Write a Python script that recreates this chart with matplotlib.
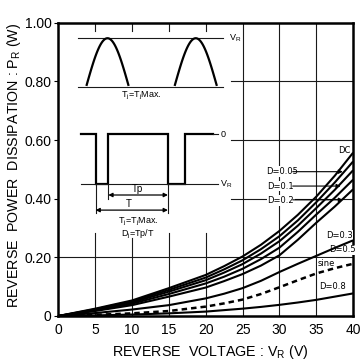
import numpy as np
import matplotlib.pyplot as plt

plt.rcParams['font.family'] = ['Liberation Sans', 'DejaVu Sans']

# values
voltage = [0, 5, 10, 15, 20, 22.5, 25, 27.5, 30, 32.5, 35, 37.5, 40]
p_dc = [0, .025, .053, .095, .140, .170, .203, .243, .290, .345, .407, .478, .557]
p_d005 = [0, .023, .050, .089, .131, .159, .190, .228, .272, .326, .388, .455, .527]
p_d01 = [0, .021, .046, .083, .122, .148, .177, .213, .255, .308, .368, .430, .497]
p_d02 = [0, .019, .042, .075, .111, .134, .161, .194, .233, .287, .346, .403, .465]
p_d03 = [0, .017, .037, .066, .097, .119, .143, .172, .207, .260, .318, .373, .432]
p_d05 = [0, .010, .022, .037, .060, .076, .095, .120, .150, .178, .205, .232, .258]
p_sine = [0, .004, .009, .017, .032, .043, .056, .075, .098, .122, .145, .163, .178]
p_d08 = [0, .002, .005, .009, .015, .020, .025, .031, .038, .046, .055, .066, .077]

x_ticks = [0, 5, 10, 15, 20, 25, 30, 35, 40]
y_ticks = [0, 0.2, 0.4, 0.6, 0.8, 1.0]
y_tick_labels = ['0', '0.20', '0.40', '0.60', '0.80', '1.00']

narrow = ['Liberation Sans Narrow', 'DejaVu Sans']
gcol = '#1a1a1a'

fig = plt.figure(figsize=(3.6, 3.63), dpi=100)
ax = fig.add_axes([0.162, 0.1295, 0.819, 0.808])
ax.set_xlim(0, 40)
ax.set_ylim(0, 1.0)

# partial grid as drawn in the datasheet
for gx in [25, 30, 35]:
    ax.plot([gx, gx], [0, 1], color=gcol, lw=0.8, zorder=1)
for gx, top in [(5, 0.283), (10, 0.265), (15, 0.283), (20, 0.283)]:
    ax.plot([gx, gx], [0, top], color=gcol, lw=0.8, zorder=1)
    ax.plot([gx, gx], [0.97, 1.0], color=gcol, lw=0.8, zorder=1)
ax.plot([0, 40], [0.2, 0.2], color=gcol, lw=0.8, zorder=1)
for gy in [0.4, 0.6, 0.8]:
    ax.plot([23.4, 40], [gy, gy], color=gcol, lw=0.8, zorder=1)

# curves
for p in [p_dc, p_d005, p_d01, p_d02, p_d03, p_d05, p_d08]:
    ax.plot(voltage, p, color='black', lw=1.5, zorder=4, solid_capstyle='butt')
ax.plot(voltage, p_sine, color='black', lw=1.8, ls=(0, (2.2, 1.6)), zorder=4)

box = dict(facecolor='white', edgecolor='none', pad=0.6)
lab_kw = dict(fontsize=6, family=narrow, ha='center', va='center', zorder=3, bbox=box)
ax.text(38.8, 0.563, 'DC', **lab_kw)
ax.text(30.4, 0.492, 'D=0.05', **lab_kw)
ax.text(30.2, 0.443, 'D=0.1', **lab_kw)
ax.text(30.2, 0.393, 'D=0.2', **lab_kw)
ax.text(38.1, 0.276, 'D=0.3', **lab_kw)
ax.text(38.5, 0.225, 'D=0.5', **lab_kw)
ax.text(36.4, 0.179, 'sine', **lab_kw)
ax.text(37.2, 0.100, 'D=0.8', **lab_kw)
arr = dict(arrowstyle='-|>', color='black', lw=0.8, mutation_scale=6, shrinkA=0, shrinkB=0)
for y0, x1 in [(0.492, 38.6), (0.443, 38.3), (0.396, 38.6)]:
    ax.annotate('', xy=(x1, y0), xytext=(31.8, y0), arrowprops=arr, zorder=5)

# inset: sine waveform
ax.plot([2.63, 22.3], [0.947, 0.947], color=gcol, lw=0.8)
ax.plot([2.63, 22.3], [0.780, 0.780], color=gcol, lw=0.8)
for x0 in [3.85, 15.82]:
    t = np.linspace(0, np.pi, 60)
    ax.plot(x0 + t / np.pi * 5.65, 0.788 + 0.159 * np.sin(t), color='black', lw=1.6)
ax.text(23.2, 0.947, 'V$_\\mathregular{R}$', fontsize=6.5, ha='left', va='center')
ax.text(11.2, 0.750, 'T$_\\mathregular{j}$=T$_\\mathregular{j}$Max.', fontsize=6.5, ha='center', va='center')

# inset: rectangular waveform
sq_x = [3.08, 5.05, 5.05, 6.78, 6.78, 14.87, 14.87, 17.18, 17.18, 20.98]
sq_y = [0.62, 0.62, 0.45, 0.45, 0.62, 0.62, 0.45, 0.45, 0.62, 0.62]
ax.plot(sq_x, sq_y, color='black', lw=1.6, solid_joinstyle='miter')
ax.plot([20.98, 21.6], [0.62, 0.62], color=gcol, lw=0.8)
ax.plot([3.08, 21.6], [0.45, 0.45], color=gcol, lw=0.8)
ax.text(22.0, 0.62, '0', fontsize=6.5, ha='left', va='center')
ax.text(22.0, 0.45, 'V$_\\mathregular{R}$', fontsize=6.5, ha='left', va='center')
ax.plot([5.05, 5.05], [0.45, 0.351], color=gcol, lw=0.8)
ax.plot([6.78, 6.78], [0.45, 0.40], color=gcol, lw=0.8)
ax.plot([14.87, 14.87], [0.45, 0.351], color=gcol, lw=0.8)
darr = dict(arrowstyle='<|-|>', color='black', lw=0.9, mutation_scale=6, shrinkA=0, shrinkB=0)
ax.annotate('', xy=(6.78, 0.4125), xytext=(14.87, 0.4125), arrowprops=darr)
ax.annotate('', xy=(5.05, 0.361), xytext=(14.87, 0.361), arrowprops=darr)
ax.text(10.7, 0.434, 'Tp', fontsize=7, ha='center', va='center')
ax.text(9.5, 0.382, 'T', fontsize=7, ha='center', va='center')
ax.text(10.8, 0.319, 'T$_\\mathregular{j}$=T$_\\mathregular{j}$Max.', fontsize=6.5, ha='center', va='center')
ax.text(10.8, 0.279, 'D$_\\mathregular{j}$=Tp/T', fontsize=6.5, ha='center', va='center')

# axes
ax.set_xticks(x_ticks)
ax.set_xticklabels([str(v) for v in x_ticks])
ax.set_yticks(y_ticks)
ax.set_yticklabels(y_tick_labels)
ax.tick_params(axis='x', length=0, pad=5, labelsize=10)
ax.tick_params(axis='y', length=3, width=0.8, pad=2, labelsize=10)
for s in ax.spines.values():
    s.set_linewidth(1.8)

ax.set_xlabel('REVERSE  VOLTAGE : V$_\\mathregular{R}$ (V)', fontsize=10.3)
ax.xaxis.label.set_va('center')
ax.xaxis.set_label_coords(0.514, -0.122)
ax.set_ylabel('REVERSE  POWER  DISSIPATION : P$_\\mathregular{R}$ (W)', fontsize=10.3)
ax.yaxis.label.set_va('center')
ax.yaxis.set_label_coords(-0.152, 0.515)

fig.savefig('out.png', dpi=100)
